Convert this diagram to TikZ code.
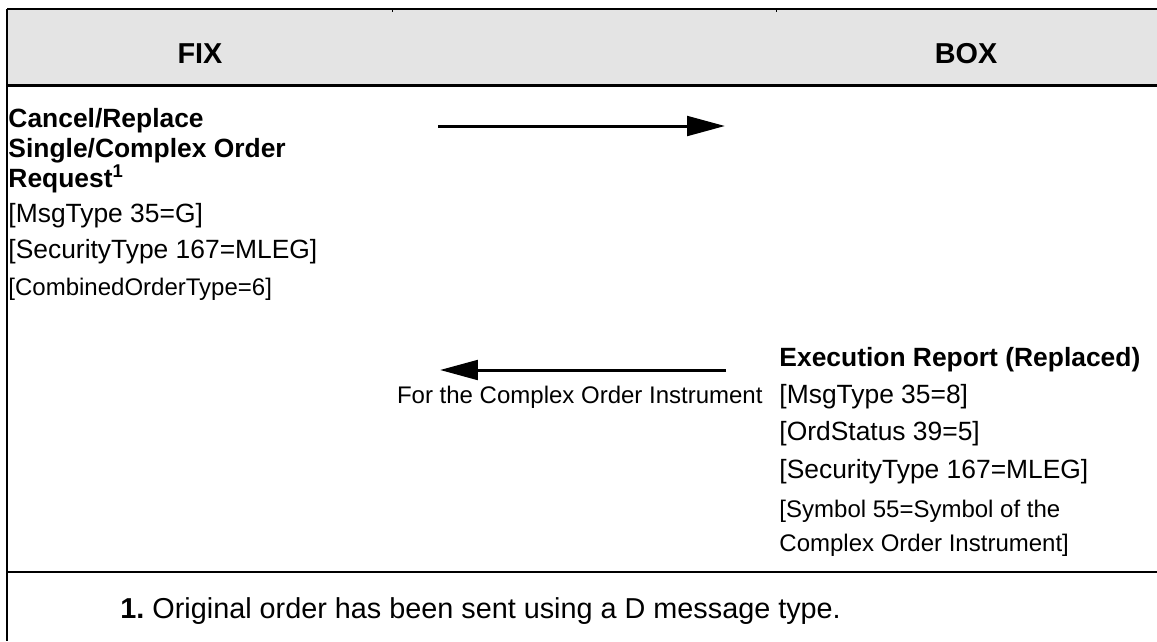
\documentclass[tikz,border=0pt]{standalone}
\usepackage{fontspec}
\setmainfont{Liberation Sans}
\usetikzlibrary{arrows.meta}
\definecolor{hdrgray}{HTML}{E4E4E4}
\tikzset{
  hdrtext/.style={font=\fontsize{12}{14}\selectfont\bfseries, anchor=base, inner sep=0pt},
  boldtxt/.style={font=\fontsize{11}{13}\selectfont\bfseries, anchor=base west, inner sep=0pt},
  bodytxt/.style={font=\fontsize{11}{13}\selectfont, anchor=base west, inner sep=0pt},
  smalltxt/.style={font=\fontsize{10}{12}\selectfont, anchor=base west, inner sep=0pt},
  foottxt/.style={font=\fontsize{12}{14}\selectfont, anchor=base west, inner sep=0pt},
  msgarrow/.style={line width=1.25pt, -{Triangle[length=15.8pt, width=8.2pt]}},
}
\begin{document}
\begin{tikzpicture}[x=0.41667pt, y=-0.41667pt]
\useasboundingbox (0,0) rectangle (1157,641);
% header band
\fill[hdrgray] (7,9) rectangle (1157,85);
\draw[line width=0.55pt] (7,9) -- (1157,9);
\draw[line width=0.4pt] (392,9) -- (392,11.5);
\draw[line width=0.4pt] (776,9) -- (776,12);
\draw[line width=1.25pt] (7,85) -- (1157,85);
\draw[line width=0.85pt] (7,572) -- (1157,572);
\draw[line width=0.85pt] (7,9) -- (7,641);
% header texts
\node[hdrtext] (fix) at (200,63) {FIX};
\node[hdrtext] (box) at (966,63) {BOX};
% left message
\node[boldtxt] (l1) at (8,127) {Cancel/Replace};
\node[boldtxt] (l2) at (8,157) {Single/Complex Order};
\node[boldtxt] (l3) at (8,187) {Request\textsuperscript{1}};
\node[bodytxt] (l4) at (8,222) {[MsgType 35=G]};
\node[bodytxt] (l5) at (8,258) {[SecurityType 167=MLEG]};
\node[smalltxt] (l6) at (8,295) {[CombinedOrderType=6]};
% right message
\node[boldtxt] (r1) at (779,366) {Execution Report (Replaced)};
\node[bodytxt] (r2) at (779,403) {[MsgType 35=8]};
\node[bodytxt] (r3) at (779,440) {[OrdStatus 39=5]};
\node[bodytxt] (r4) at (779,478) {[SecurityType 167=MLEG]};
\node[smalltxt] (r5) at (779,517) {[Symbol 55=Symbol of the};
\node[smalltxt] (r6) at (779,551) {Complex Order Instrument]};
\node[font=\fontsize{10}{12}\selectfont, anchor=base east, inner sep=0pt] (lbl) at (763,403) {For the Complex Order Instrument};
% arrows
\coordinate (a1s) at (438,126);
\coordinate (a1e) at (725,126);
\coordinate (a2s) at (726,370);
\coordinate (a2e) at (440,370);
\draw[msgarrow] (a1s) -- (a1e);
\draw[msgarrow] (a2s) -- (a2e);
% footnote
\node[foottxt, font=\fontsize{12}{14}\selectfont\bfseries] (fn1) at (120,618) {1.};
\node[foottxt] (fn2) at (152,618) {Original order has been sent using a D message type.};
\end{tikzpicture}
\end{document}
